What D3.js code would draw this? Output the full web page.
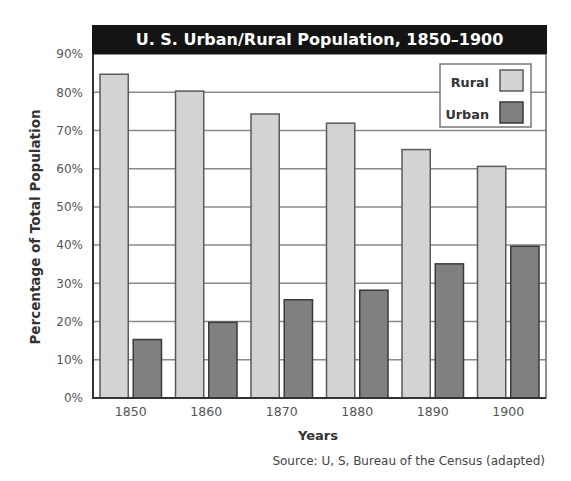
<!DOCTYPE html>
<html>
<head>
<meta charset="utf-8">
<script src="https://cdn.jsdelivr.net/npm/d3@7"></script>
<style>
  html, body { margin: 0; padding: 0; background: #fff; }
  svg { display: block; font-family: "DejaVu Sans", sans-serif; }
</style>
</head>
<body>
<svg id="chart" width="571" height="481"></svg>
<script>
const years = ["1850", "1860", "1870", "1880", "1890", "1900"];
const seriesNames = ["Rural", "Urban"];
const rural = [84.7, 80.3, 74.3, 71.9, 65.0, 60.6];
const urban = [15.3, 19.8, 25.7, 28.2, 35.1, 39.7];
const yTicks = [0, 10, 20, 30, 40, 50, 60, 70, 80, 90];
const titleText = "U. S. Urban/Rural Population, 1850\u20131900";
const yTitle = "Percentage of Total Population";
const xTitle = "Years";
const sourceText = "Source: U, S, Bureau of the Census (adapted)";

const colors = { Rural: "#d3d3d3", Urban: "#808080" };
const strokes = { Rural: "#5a5a5a", Urban: "#3a3a3a" };

const svg = d3.select("#chart");
const L = 93, R = 546, T = 54, B = 398;
const FONT = "DejaVu Sans, sans-serif";

const x = d3.scaleBand().domain(years).range([L, R]).paddingInner(0).paddingOuter(0);
const xs = d3.scaleBand().domain(seriesNames).range([7, x.bandwidth() - 7]).paddingInner(0.15).paddingOuter(0);
const y = d3.scaleLinear().domain([0, 90]).range([B, T]);

const data = years.map((yr, i) => ({ year: yr, values: [ { key: "Rural", v: rural[i] }, { key: "Urban", v: urban[i] } ] }));

// plot background
svg.append("rect").attr("x", L).attr("y", T).attr("width", R - L).attr("height", B - T).attr("fill", "#fff");

// gridlines
svg.append("g").selectAll("line").data(yTicks.filter(d => d > 0 && d < 90)).join("line")
  .attr("x1", L).attr("x2", R)
  .attr("y1", d => y(d)).attr("y2", d => y(d))
  .attr("stroke", "#8a8a8a").attr("stroke-width", 1.5);

// bars
const groups = svg.append("g").selectAll("g").data(data).join("g")
  .attr("transform", d => `translate(${x(d.year)},0)`);
groups.selectAll("rect").data(d => d.values).join("rect")
  .attr("x", d => xs(d.key))
  .attr("width", xs.bandwidth())
  .attr("y", d => y(d.v))
  .attr("height", d => y(0) - y(d.v))
  .attr("fill", d => colors[d.key])
  .attr("stroke", d => strokes[d.key])
  .attr("stroke-width", 1.5);

// frame
svg.append("rect").attr("x", L).attr("y", T).attr("width", R - L).attr("height", B - T)
  .attr("fill", "none").attr("stroke", "#6a6a6a").attr("stroke-width", 1.5);
svg.append("path").attr("d", `M${L},${T} V${B} H${R}`)
  .attr("fill", "none").attr("stroke", "#333").attr("stroke-width", 2);

// title bar
svg.append("rect").attr("x", L - 1).attr("y", 25).attr("width", R - L + 2).attr("height", 29).attr("fill", "#141414");
svg.append("text").attr("x", (L + R) / 2).attr("y", 45).attr("text-anchor", "middle")
  .attr("fill", "#fff").attr("font-weight", "bold").attr("font-size", 16).attr("font-family", FONT).text(titleText);

// y axis
const yAxis = d3.axisLeft(y).tickValues(yTicks).tickFormat(d => d + "%").tickSize(0).tickPadding(10);
const yg = svg.append("g").attr("transform", `translate(${L},0)`).call(yAxis);
yg.select(".domain").remove();
yg.selectAll("text").attr("font-size", 12).attr("fill", "#555").style("fill", "#555").attr("font-family", FONT);

// x axis
const xAxis = d3.axisBottom(x).tickSize(0).tickPadding(9);
const xg = svg.append("g").attr("transform", `translate(0,${B})`).call(xAxis);
xg.select(".domain").remove();
xg.selectAll("text").attr("font-size", 12.5).attr("fill", "#555").style("fill", "#555").attr("font-family", FONT);

// axis titles
svg.append("text").attr("transform", `translate(40,${(T + B) / 2 + 1}) rotate(-90)`)
  .attr("text-anchor", "middle").attr("font-weight", "bold").attr("font-size", 13.5).attr("fill", "#333").text(yTitle);
svg.append("text").attr("x", 318).attr("y", 440).attr("text-anchor", "middle")
  .attr("font-weight", "bold").attr("font-size", 13).attr("fill", "#333").text(xTitle);
svg.append("text").attr("x", R - 1).attr("y", 465).attr("text-anchor", "end")
  .attr("font-size", 12).attr("fill", "#444").text(sourceText);

// legend
const lg = svg.append("g");
lg.append("rect").attr("x", 440).attr("y", 64).attr("width", 91).attr("height", 63)
  .attr("fill", "#fff").attr("stroke", "#777").attr("stroke-width", 1.5);
seriesNames.forEach((s, i) => {
  const yy = 70 + i * 32;
  lg.append("rect").attr("x", 500).attr("y", yy).attr("width", 23).attr("height", 21)
    .attr("fill", colors[s]).attr("stroke", strokes[s]).attr("stroke-width", 1.5);
  lg.append("text").attr("x", 489).attr("y", yy + 17).attr("text-anchor", "end")
    .attr("font-weight", "bold").attr("font-size", 12.8).attr("fill", "#333").text(s);
});
</script>
</body>
</html>
